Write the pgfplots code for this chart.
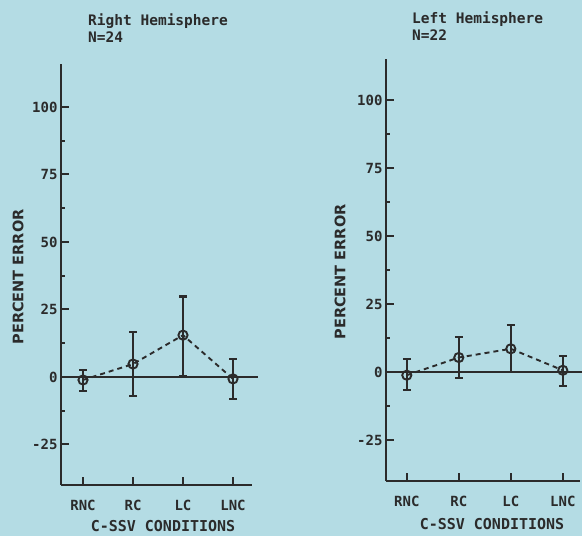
\documentclass[border=0pt]{standalone}
\usepackage{fontspec}
\setmainfont{DejaVu Sans}
\newfontfamily\mono{DejaVu Sans Mono}
\usepackage{pgfplots}
\pgfplotsset{compat=1.18}
\usepackage{pgfplotstable}
\definecolor{bg}{HTML}{B4DCE4}
\definecolor{ink}{HTML}{2B2B2B}

% Right hemisphere (N=24)
\pgfplotstableread{
x y ep em
0 -1.1 3.7 4.1
1 4.8 11.9 11.8
2 15.5 14.3 15.1
3 -0.7 7.4 7.3
}\rightdata
% Left hemisphere (N=22)
\pgfplotstableread{
x y ep em
0 -1.1 5.8 5.5
1 5.4 7.6 7.5
2 8.6 8.9 8.6
3 0.7 5.4 5.8
}\leftdata

\pgfplotsset{
  panel/.style={
    scale only axis,
    anchor=south west,
    axis lines=left,
    axis line style={-, line width=2.6pt, ink},
    clip=false,
    ytick={-25,0,25,50,75,100},
    minor ytick={-12.5,12.5,37.5,62.5,87.5},
    xtick={0,1,2,3},
    xticklabels={RNC,RC,LC,LNC},
    tick align=inside,
    major tick length=8pt,
    minor tick length=4pt,
    every tick/.style={line width=2pt, ink},
    every minor tick/.style={line width=2pt, ink},
    tick label style={font=\mono\bfseries\fontsize{14}{14}\selectfont, text=ink},
    xticklabel style={yshift=-12pt},
    /pgf/number format/assume math mode=true,
  },
  dat/.style={
    ink, line width=1.9pt, dash pattern=on 5pt off 4pt,
    mark=o, mark size=4.6pt,
    mark options={solid, fill=bg, line width=1.9pt},
    error bars/.cd, y dir=both, y explicit,
    error bar style={solid, line width=2.1pt, ink},
    error mark options={rotate=90, mark size=4pt, line width=2.1pt, solid, ink},
  },
}

\begin{document}
\begin{tikzpicture}
\useasboundingbox (0,0) rectangle (582pt,536pt);
\fill[bg] (0,0) rectangle (582pt,536pt);

\begin{axis}[panel, at={(61pt,51pt)}, x=50pt, y=2.7pt,
  xmin=-0.44, xmax=3.38, ymin=-40, ymax=116]
  \addplot[ink, line width=2pt] coordinates {(-0.44,0) (3.5,0)};
  \addplot[dat] table[x=x, y=y, y error plus=ep, y error minus=em]{\rightdata};
\end{axis}

\begin{axis}[panel, at={(386pt,55pt)}, x=52pt, y=2.72pt,
  xmin=-0.4, xmax=3.34, ymin=-40, ymax=115]
  \addplot[ink, line width=2pt] coordinates {(-0.4,0) (3.4,0)};
  \addplot[dat] table[x=x, y=y, y error plus=ep, y error minus=em]{\leftdata};
\end{axis}

\node[anchor=north west, align=left, text=ink, inner sep=0pt,
  font=\mono\bfseries\fontsize{14.5}{17}\selectfont] at (88pt,522pt) {Right Hemisphere\\N=24};
\node[anchor=north west, align=left, text=ink, inner sep=0pt,
  font=\mono\bfseries\fontsize{14.5}{17}\selectfont] at (412pt,524pt) {Left Hemisphere\\N=22};

\node[rotate=90, text=ink, font=\bfseries\fontsize{14.5}{15}\selectfont] at (18pt,259pt) {PERCENT ERROR};
\node[rotate=90, text=ink, font=\bfseries\fontsize{14.5}{15}\selectfont] at (340pt,264pt) {PERCENT ERROR};

\node[text=ink, font=\mono\bfseries\fontsize{15}{15}\selectfont] at (163pt,10pt) {C-SSV CONDITIONS};
\node[text=ink, font=\mono\bfseries\fontsize{15}{15}\selectfont] at (492pt,12pt) {C-SSV CONDITIONS};
\end{tikzpicture}
\end{document}
